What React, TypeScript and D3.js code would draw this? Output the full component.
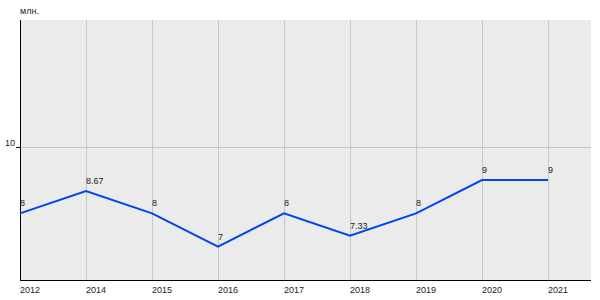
import React from "react";
import * as d3 from "d3";

const years = ["2012", "2014", "2015", "2016", "2017", "2018", "2019", "2020", "2021"];
const values = [8, 8.67, 8, 7, 8, 7.33, 8, 9, 9];
const valueLabels = ["8", "8.67", "8", "7", "8", "7.33", "8", "9", "9"];
const yTicks = [10];
const yUnit = "млн.";

export default function App() {
  const W = 600, H = 300;
  const left = 20, right = 591, top = 20, bottom = 280;
  const step = 66;
  const x = d3.scalePoint<string>().domain(years).range([left, left + step * (years.length - 1)]);
  const y = d3.scaleLinear().domain([6, 13.8]).range([bottom, top]);
  const line = d3.line<number>().x((_, i) => x(years[i])!).y((d) => y(d));
  const font = "Liberation Sans, Arial, sans-serif";
  return (
    <svg width={W} height={H} style={{ position: "absolute", left: 0, top: 0 }} fontFamily={font}>
      <rect x={left} y={top} width={right - left} height={bottom - top} fill="#ebebeb" />
      {years.map((yr) => (
        <line key={yr} x1={x(yr)! + 0.5} x2={x(yr)! + 0.5} y1={top} y2={bottom} stroke="#c8c8c8" />
      ))}
      {yTicks.map((t) => (
        <g key={t}>
          <line x1={left} x2={right} y1={Math.round(y(t)) + 0.5} y2={Math.round(y(t)) + 0.5} stroke="#c8c8c8" />
          <line x1={left - 4} x2={left} y1={Math.round(y(t)) + 0.5} y2={Math.round(y(t)) + 0.5} stroke="#000" />
          <text x={left - 5} y={y(t) - 1} fontSize={9} textAnchor="end" fill="#222">{t}</text>
        </g>
      ))}
      <line x1={left + 0.5} x2={left + 0.5} y1={top} y2={bottom + 1} stroke="#000" />
      <line x1={left} x2={right} y1={bottom + 0.5} y2={bottom + 0.5} stroke="#000" />
      <text x={left} y={14} fontSize={9} fill="#222">{yUnit}</text>
      {years.map((yr) => (
        <text key={yr} x={x(yr)!} y={293} fontSize={9} fill="#222">{yr}</text>
      ))}
      <path d={line(values)!} fill="none" stroke="#0044ee" strokeWidth={2} />
      {values.map((v, i) => (
        <text key={i} x={x(years[i])!} y={y(v) - 7} fontSize={9} fill="#222">{valueLabels[i]}</text>
      ))}
    </svg>
  );
}
